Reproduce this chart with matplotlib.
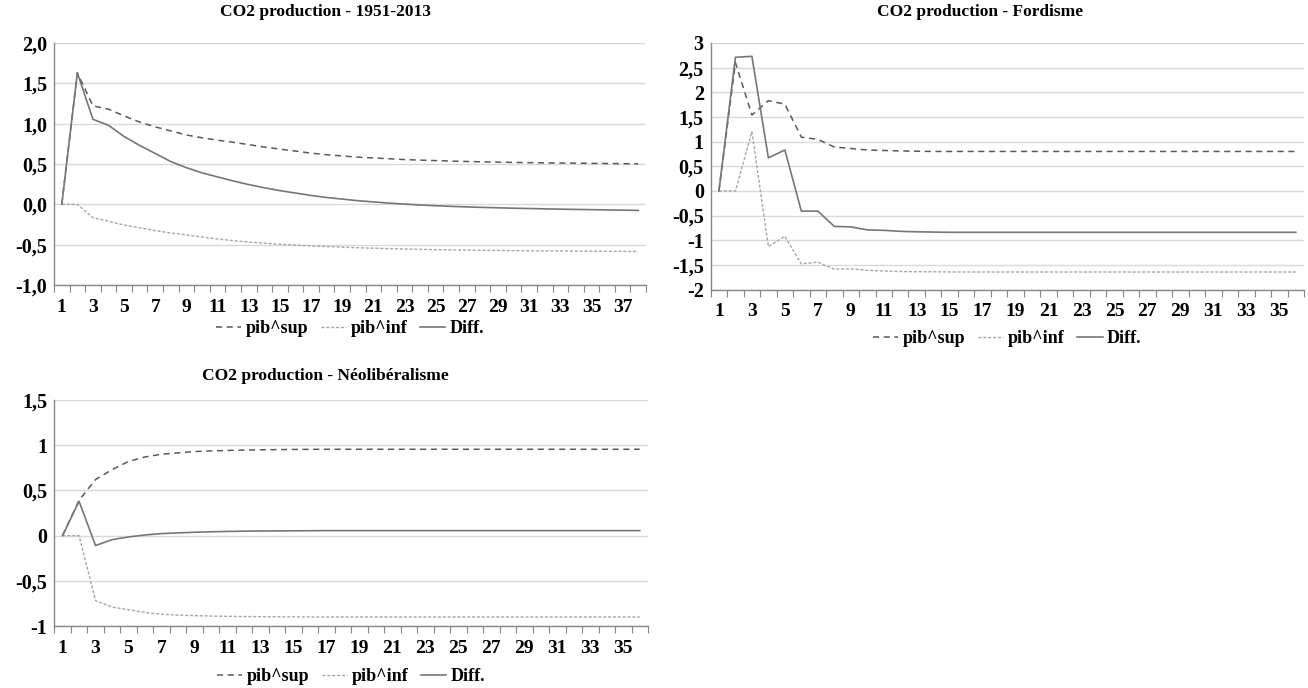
import matplotlib
matplotlib.use("Agg")
import matplotlib.pyplot as plt
from matplotlib.ticker import FuncFormatter, MultipleLocator
import numpy as np

plt.rcParams['font.family'] = ['Liberation Serif', 'DejaVu Serif']
plt.rcParams['font.weight'] = 'bold'

# ---- data ----
p1_sup = [0, 1.63, 1.22, 1.18, 1.095, 1.02, 0.96, 0.91, 0.86, 0.825,
          0.795, 0.77, 0.74, 0.71, 0.685, 0.66, 0.635, 0.615, 0.60, 0.585,
          0.575, 0.565, 0.555, 0.548, 0.542, 0.536, 0.531, 0.527, 0.523, 0.52,
          0.517, 0.514, 0.512, 0.51, 0.508, 0.506, 0.504, 0.502]
p1_inf = [0, 0, -0.165, -0.21, -0.256, -0.29, -0.326, -0.355, -0.38, -0.405,
          -0.43, -0.45, -0.468, -0.482, -0.495, -0.505, -0.515, -0.523, -0.531, -0.538,
          -0.544, -0.549, -0.554, -0.558, -0.562, -0.565, -0.567, -0.57, -0.572, -0.574,
          -0.576, -0.577, -0.579, -0.58, -0.581, -0.582, -0.583, -0.585]
p1_diff = [0, 1.63, 1.054, 0.98, 0.84, 0.73, 0.63, 0.53, 0.455, 0.39,
           0.34, 0.29, 0.245, 0.205, 0.17, 0.14, 0.11, 0.085, 0.065, 0.045,
           0.03, 0.015, 0.003, -0.008, -0.017, -0.025, -0.032, -0.038, -0.043, -0.048,
           -0.052, -0.056, -0.06, -0.063, -0.066, -0.069, -0.072, -0.075]

p2_sup = [0, 2.6, 1.54, 1.83, 1.76, 1.09, 1.045, 0.89, 0.86, 0.83,
          0.82, 0.81, 0.805, 0.80, 0.80, 0.80, 0.80, 0.80, 0.80, 0.80,
          0.80, 0.80, 0.80, 0.80, 0.80, 0.80, 0.80, 0.80, 0.80, 0.80,
          0.80, 0.80, 0.80, 0.80, 0.80, 0.80]
p2_inf = [0, 0, 1.20, -1.13, -0.92, -1.48, -1.445, -1.59, -1.58, -1.61,
          -1.625, -1.635, -1.64, -1.64, -1.645, -1.645, -1.645, -1.645, -1.645, -1.645,
          -1.645, -1.645, -1.645, -1.645, -1.645, -1.645, -1.645, -1.645, -1.645, -1.645,
          -1.645, -1.645, -1.645, -1.645, -1.645, -1.645]
p2_diff = [0, 2.71, 2.73, 0.67, 0.83, -0.41, -0.41, -0.72, -0.73, -0.79,
           -0.80, -0.82, -0.83, -0.835, -0.84, -0.84, -0.84, -0.84, -0.84, -0.84,
           -0.84, -0.84, -0.84, -0.84, -0.84, -0.84, -0.84, -0.84, -0.84, -0.84,
           -0.84, -0.84, -0.84, -0.84, -0.84, -0.84]

p3_sup = [0, 0.39, 0.62, 0.73, 0.82, 0.87, 0.90, 0.915, 0.93, 0.937,
          0.942, 0.946, 0.949, 0.951, 0.953, 0.954, 0.955, 0.955, 0.955, 0.955,
          0.955, 0.955, 0.955, 0.955, 0.955, 0.955, 0.955, 0.955, 0.955, 0.955,
          0.955, 0.955, 0.955, 0.955, 0.955, 0.955]
p3_inf = [0, 0, -0.72, -0.79, -0.82, -0.85, -0.87, -0.88, -0.885, -0.89,
          -0.893, -0.895, -0.897, -0.898, -0.899, -0.90, -0.90, -0.90, -0.90, -0.90,
          -0.90, -0.90, -0.90, -0.90, -0.90, -0.90, -0.90, -0.90, -0.90, -0.90,
          -0.90, -0.90, -0.90, -0.90, -0.90, -0.90]
p3_diff = [0, 0.38, -0.11, -0.045, -0.015, 0.007, 0.022, 0.03, 0.037, 0.042,
           0.046, 0.049, 0.051, 0.052, 0.053, 0.054, 0.055, 0.055, 0.055, 0.055,
           0.055, 0.055, 0.055, 0.055, 0.055, 0.055, 0.055, 0.055, 0.055, 0.055,
           0.055, 0.055, 0.055, 0.055, 0.055, 0.055]

titles = ['CO2 production - 1951-2013', 'CO2 production - Fordisme',
          'CO2 production - Néolibéralisme']
labels = ['pib^sup', 'pib^inf', 'Diff.']

# ---- styles ----
FS_TITLE = 12.5
FS_LEG = 13
FS_X = 14
FS_Y = 14.5
C_SUP = '#595959'
C_INF = '#a6a6a6'
C_DIFF = '#767676'
C_AXIS = '#868686'
C_GRID = '#d9d9d9'


def fmt_comma(decimals):
    def f(v, pos):
        if decimals == 0 and abs(v - round(v)) < 1e-9:
            s = '%d' % round(v)
        elif decimals == 0:
            s = ('%.1f' % v)
        else:
            s = ('%.' + str(decimals) + 'f') % v
        if s in ('-0', '-0.0'):
            s = s[1:]
        return s.replace('.', ',')
    return FuncFormatter(f)


def draw_panel(ax, sup, inf, diff, ylim, ystep, decimals, legend_y):
    n = len(sup)
    x = np.arange(1, n + 1)
    ax.plot(x, sup, color=C_SUP, lw=1.1, dashes=(4, 3), label=labels[0], zorder=3)
    ax.plot(x, inf, color=C_INF, lw=1.0, dashes=(2.2, 1.3), label=labels[1], zorder=3)
    ax.plot(x, diff, color=C_DIFF, lw=1.2, label=labels[2], zorder=4)

    ax.set_xlim(0.5, n + 0.5)
    ax.set_ylim(*ylim)
    ax.yaxis.set_major_locator(MultipleLocator(ystep))
    ax.yaxis.set_major_formatter(fmt_comma(decimals))
    ax.set_xticks(np.arange(1, n + 1, 2))
    ax.set_xticks(np.arange(0.5, n + 1.0, 1), minor=True)
    ax.tick_params(axis='x', which='major', length=0, pad=10, labelsize=FS_X)
    ax.tick_params(axis='x', which='minor', length=5, color=C_AXIS, width=0.8)
    ax.tick_params(axis='y', length=0, pad=5, labelsize=FS_Y)
    for t in ax.get_xticklabels() + ax.get_yticklabels():
        t.set_fontweight('bold')

    ax.grid(axis='y', color=C_GRID, lw=1.0, zorder=0)
    ax.set_axisbelow(True)
    for side in ('top', 'right'):
        ax.spines[side].set_visible(False)
    for side in ('left', 'bottom'):
        ax.spines[side].set_color(C_AXIS)
        ax.spines[side].set_linewidth(1.0)

    leg = ax.legend(loc='center', bbox_to_anchor=(0.5, legend_y), ncol=3,
                    frameon=False, handlelength=1.4,
                    handletextpad=0.25, columnspacing=0.7,
                    prop={'weight': 'bold', 'size': FS_LEG})
    return leg


fig = plt.figure(figsize=(13.08, 6.88), dpi=100)

ax1 = fig.add_axes([54 / 1308, 1 - 285 / 688, (646 - 54) / 1308, (285 - 43) / 688])
ax2 = fig.add_axes([710.7 / 1308, 1 - 289.5 / 688, (1304 - 710.7) / 1308, (289.5 - 43) / 688])
ax3 = fig.add_axes([54.3 / 1308, 1 - 626 / 688, (648 - 54.3) / 1308, (626 - 400) / 688])

draw_panel(ax1, p1_sup, p1_inf, p1_diff, (-1.0, 2.0), 0.5, 1, -0.18)
draw_panel(ax2, p2_sup, p2_inf, p2_diff, (-2, 3), 0.5, 0, -0.2)
draw_panel(ax3, p3_sup, p3_inf, p3_diff, (-1, 1.5), 0.5, 0, -0.225)

fig.text(325 / 1308, 1 - 12 / 688, titles[0], ha='center', va='center',
         fontsize=FS_TITLE, fontweight='bold')
fig.text(980 / 1308, 1 - 12 / 688, titles[1], ha='center', va='center',
         fontsize=FS_TITLE, fontweight='bold')
fig.text(325 / 1308, 1 - 376 / 688, titles[2], ha='center', va='center',
         fontsize=FS_TITLE, fontweight='bold')

fig.savefig('out.png', dpi=100)
